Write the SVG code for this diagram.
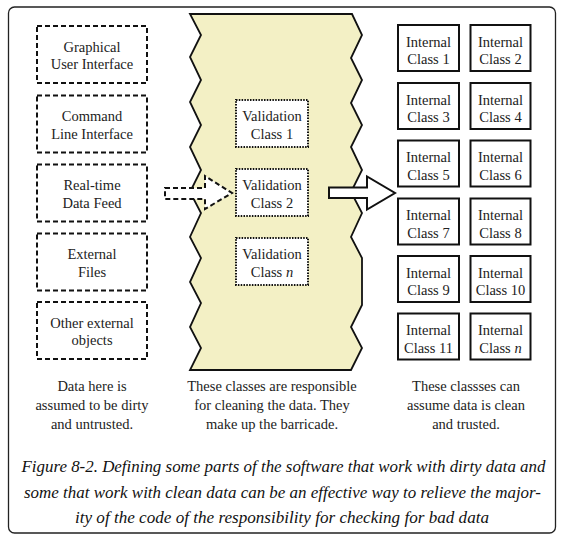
<svg xmlns="http://www.w3.org/2000/svg" width="566" height="541" viewBox="0 0 566 541">
<style>
.t{font-family:"Liberation Serif","Times New Roman",serif;font-size:14.5px;fill:#222;text-anchor:middle}
.cap{font-family:"Liberation Serif","Times New Roman",serif;font-size:16.3px;font-style:italic;fill:#111}
.dash{fill:#fff;stroke:#111;stroke-width:2;stroke-dasharray:5 3}
.dot{fill:#fff;stroke:#111;stroke-width:2;stroke-dasharray:1.5 1.3}
.solid{fill:#fff;stroke:#111;stroke-width:2}
</style>
<rect x="8.5" y="7" width="547" height="526" rx="6" fill="#fff" stroke="#222" stroke-width="1.3"/>
<g id="barricade">
<polygon points="190,14 352,14 362,35 351,58 362,80 351,103 362,125 351,147 362,170 351,192 362,213 351,237 362,258 362,305 351,327 362,348 351,370 190,370 201,348 190,327 201,303 190,282 201,258 190,237 201,213 190,192 201,170 190,147 201,125 190,102 201,80 190,57 201,35" fill="#F3F0C5" stroke="#111" stroke-width="1.8" stroke-linejoin="miter"/>
</g>
<g id="ext1"><rect class="dash" x="37" y="26" width="110" height="57"/><text class="t" x="92" y="51.5">Graphical</text><text class="t" x="92" y="69">User Interface</text></g>
<g id="ext2"><rect class="dash" x="37" y="95.5" width="110" height="57"/><text class="t" x="92" y="121">Command</text><text class="t" x="92" y="138.5">Line Interface</text></g>
<g id="ext3"><rect class="dash" x="37" y="164.5" width="110" height="57"/><text class="t" x="92" y="190">Real-time</text><text class="t" x="92" y="207.5">Data Feed</text></g>
<g id="ext4"><rect class="dash" x="37" y="233.5" width="110" height="57"/><text class="t" x="92" y="259">External</text><text class="t" x="92" y="276.5">Files</text></g>
<g id="ext5"><rect class="dash" x="37" y="302" width="110" height="57"/><text class="t" x="92" y="327.5">Other external</text><text class="t" x="92" y="345">objects</text></g>
<g id="val1"><rect class="dot" x="236" y="100" width="72" height="47"/><text class="t" x="272" y="121">Validation</text><text class="t" x="272" y="138.5">Class 1</text></g>
<g id="val2"><rect class="dot" x="236" y="169" width="72" height="47"/><text class="t" x="272" y="190">Validation</text><text class="t" x="272" y="207.5">Class 2</text></g>
<g id="valn"><rect class="dot" x="236" y="238" width="72" height="47"/><text class="t" x="272" y="259">Validation</text><text class="t" x="272" y="276.5">Class <tspan font-style="italic">n</tspan></text></g>
<g id="connectors">
<polygon class="dash" stroke-width="1.8" points="165,188 205,188 205,176 232,193 205,209 205,199 165,199"/>
<polygon class="solid" stroke-width="1.6" points="329,187.5 367,187.5 367,176.5 395,193 367,209.5 367,198 329,198"/>
</g>
<g id="int1"><rect class="solid" x="398" y="25" width="61" height="46"/><text class="t" x="428.5" y="46.5">Internal</text><text class="t" x="428.5" y="64">Class 1</text></g>
<g id="int2"><rect class="solid" x="470.5" y="25" width="60" height="46"/><text class="t" x="500.5" y="46.5">Internal</text><text class="t" x="500.5" y="64">Class 2</text></g>
<g id="int3"><rect class="solid" x="398" y="83" width="61" height="46"/><text class="t" x="428.5" y="104.5">Internal</text><text class="t" x="428.5" y="122">Class 3</text></g>
<g id="int4"><rect class="solid" x="470.5" y="83" width="60" height="46"/><text class="t" x="500.5" y="104.5">Internal</text><text class="t" x="500.5" y="122">Class 4</text></g>
<g id="int5"><rect class="solid" x="398" y="140.5" width="61" height="46"/><text class="t" x="428.5" y="162">Internal</text><text class="t" x="428.5" y="179.5">Class 5</text></g>
<g id="int6"><rect class="solid" x="470.5" y="140.5" width="60" height="46"/><text class="t" x="500.5" y="162">Internal</text><text class="t" x="500.5" y="179.5">Class 6</text></g>
<g id="int7"><rect class="solid" x="398" y="198.5" width="61" height="46"/><text class="t" x="428.5" y="220">Internal</text><text class="t" x="428.5" y="237.5">Class 7</text></g>
<g id="int8"><rect class="solid" x="470.5" y="198.5" width="60" height="46"/><text class="t" x="500.5" y="220">Internal</text><text class="t" x="500.5" y="237.5">Class 8</text></g>
<g id="int9"><rect class="solid" x="398" y="256" width="61" height="46"/><text class="t" x="428.5" y="277.5">Internal</text><text class="t" x="428.5" y="295">Class 9</text></g>
<g id="int10"><rect class="solid" x="470.5" y="256" width="60" height="46"/><text class="t" x="500.5" y="277.5">Internal</text><text class="t" x="500.5" y="295">Class 10</text></g>
<g id="int11"><rect class="solid" x="398" y="313.5" width="61" height="46"/><text class="t" x="428.5" y="335">Internal</text><text class="t" x="428.5" y="352.5">Class 11</text></g>
<g id="intn"><rect class="solid" x="470.5" y="313.5" width="60" height="46"/><text class="t" x="500.5" y="335">Internal</text><text class="t" x="500.5" y="352.5">Class <tspan font-style="italic">n</tspan></text></g>
<g id="labels">
<text class="t" x="92" y="391">Data here is</text>
<text class="t" x="92" y="410">assumed to be dirty</text>
<text class="t" x="92" y="429">and untrusted.</text>
<text class="t" x="272" y="391">These classes are responsible</text>
<text class="t" x="272" y="410">for cleaning the data. They</text>
<text class="t" x="272" y="429">make up the barricade.</text>
<text class="t" x="466" y="391">These classses can</text>
<text class="t" x="466" y="410">assume data is clean</text>
<text class="t" x="466" y="429">and trusted.</text>
</g>
<g id="caption">
<text class="cap" x="21.5" y="472" textLength="524" lengthAdjust="spacingAndGlyphs">Figure 8-2. Defining some parts of the software that work with dirty data and</text>
<text class="cap" x="24" y="498" textLength="517" lengthAdjust="spacingAndGlyphs">some that work with clean data can be an effective way to relieve the major-</text>
<text class="cap" x="75" y="523" textLength="414" lengthAdjust="spacingAndGlyphs">ity of the code of the responsibility for checking for bad data</text>
</g>
</svg>
